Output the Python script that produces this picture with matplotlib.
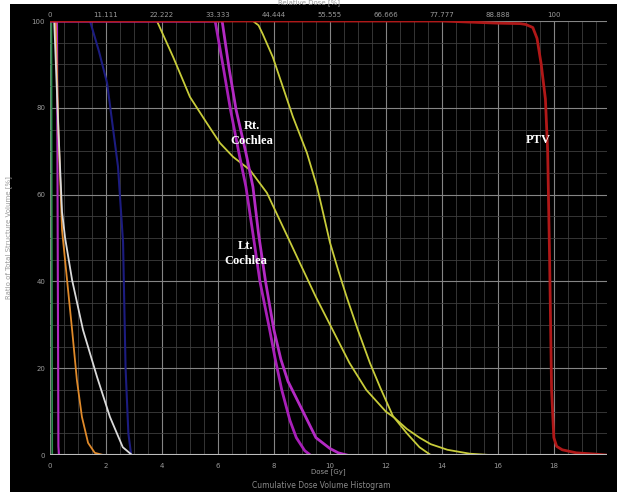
import matplotlib.pyplot as plt
from matplotlib.patches import Rectangle
from matplotlib.ticker import MultipleLocator

# Дозы (Gy) и объём (%) для каждой структуры
ptv_dose = [0, 14, 16, 16.8, 17.0, 17.25, 17.4, 17.55, 17.7, 17.78, 17.85, 17.92, 18.0, 18.1, 18.3, 18.8, 19.5, 19.85]
ptv_vol = [100, 100, 99.5, 99.4, 99.2, 98.5, 96, 90, 82, 70, 45, 15, 4, 2, 1.2, 0.5, 0.2, 0]

coch_a_dose = [0, 5.9, 6.2, 6.45, 6.75, 7.0, 7.25, 7.5, 7.85, 8.05, 8.28, 8.57, 8.8, 9.1, 9.3]
coch_a_vol = [100, 100, 89, 79.5, 69.6, 61.8, 51, 40, 28.8, 22, 15, 8, 4, 1, 0]
coch_b_dose = [0, 6.15, 6.4, 6.65, 7.0, 7.25, 7.45, 7.7, 8.0, 8.25, 8.5, 9.04, 9.5, 10.0, 10.3, 10.6]
coch_b_vol = [100, 100, 89, 79.5, 69.6, 61.8, 51, 40, 28.8, 22, 17, 10, 4, 1.5, 0.5, 0]

yel_a_dose = [0, 3.82, 4.4, 5.0, 5.6, 6.07, 6.54, 7.14, 7.75, 8.4, 8.93, 9.5, 10.1, 10.7, 11.3, 12.0, 12.3, 12.75, 13.2, 13.6, 14.2, 15.0, 15.7]
yel_a_vol = [100, 100, 91.7, 82.5, 76.5, 71.9, 68.7, 65.7, 60.4, 51.5, 44.2, 36.4, 28.8, 21.2, 15, 10, 8.6, 6, 4, 2.5, 1.2, 0.3, 0]
yel_b_dose = [0, 7.25, 7.45, 7.6, 7.96, 8.32, 8.68, 9.18, 9.54, 9.75, 10.0, 10.3, 10.6, 11.0, 11.43, 11.8, 12.25, 12.75, 13.2, 13.6]
yel_b_vol = [100, 100, 99, 97, 91.7, 84.8, 77.9, 69.6, 61.8, 56, 49, 42.5, 36.4, 28.8, 21.2, 15.5, 9, 5, 1.8, 0]

white_dose = [0, 0.15, 0.3, 0.43, 0.54, 0.79, 1.18, 1.68, 2.14, 2.6, 2.93]
white_vol = [100, 100, 75, 56, 50, 40.3, 28.8, 18, 8.8, 1.8, 0]

orange_dose = [0, 0.2, 0.3, 0.43, 0.61, 0.79, 0.96, 1.14, 1.36, 1.6, 1.9]
orange_vol = [100, 100, 75, 51.8, 40.3, 28.8, 17.3, 8.8, 2.8, 0.5, 0]

blue_dose = [0, 1.43, 1.75, 2.04, 2.43, 2.61, 2.7, 2.8, 2.9]
blue_vol = [100, 100, 93, 85.7, 66.4, 49, 20, 5, 0]

green_dose = [0, 0.05, 0.08]
green_vol = [100, 100, 0]
mag_dose = [0, 0.25, 0.3, 0.32]
mag_vol = [100, 100, 2, 0]

x_ticks = [0, 2, 4, 6, 8, 10, 12, 14, 16, 18]
top_labels = ['0', '11.111', '22.222', '33.333', '44.444', '55.555', '66.666', '77.777', '88.888', '100']
y_ticks = [0, 20, 40, 60, 80, 100]

fig = plt.figure(figsize=(6.17, 4.92), dpi=100)
fig.patch.set_facecolor('white')
fig.patches.append(Rectangle((10 / 617, 0), 1, 488 / 492, transform=fig.transFigure,
                             facecolor='black', edgecolor='none', zorder=-10))

ax = fig.add_axes([50 / 617, 37 / 492, 557 / 617, 434 / 492])
ax.set_facecolor('black')

# сетка
ax.xaxis.set_minor_locator(MultipleLocator(0.5))
ax.yaxis.set_minor_locator(MultipleLocator(5))
ax.grid(which='major', color='#858585', linewidth=0.8)
ax.grid(which='minor', color='#3e3e3e', linewidth=0.6)
ax.set_axisbelow(True)

ax.plot(blue_dose, blue_vol, color='#1c1c80', linewidth=1.5)
ax.plot(green_dose, green_vol, color='#2f8f4f', linewidth=1.2)
ax.plot(mag_dose, mag_vol, color='#b02ac0', linewidth=1.5)
ax.plot(orange_dose, orange_vol, color='#e08a2a', linewidth=1.3)
ax.plot(white_dose, white_vol, color='#dadada', linewidth=1.3)
ax.plot(yel_a_dose, yel_a_vol, color='#c8cc3a', linewidth=1.3)
ax.plot(yel_b_dose, yel_b_vol, color='#c8cc3a', linewidth=1.3)
ax.plot(coch_a_dose, coch_a_vol, color='#a81fb8', linewidth=2)
ax.plot(coch_b_dose, coch_b_vol, color='#b42ac4', linewidth=2)
ax.plot(ptv_dose, ptv_vol, color='#b01818', linewidth=2)

ax.set_xlim(0, 19.9)
ax.set_ylim(0, 100)
ax.set_xticks(x_ticks)
ax.set_yticks(y_ticks)
ax.tick_params(which='both', length=0, colors='#9a9a9a', labelsize=5)
ax.tick_params(axis='x', pad=6)
for s in ax.spines.values():
    s.set_visible(False)
ax.axhline(0, color='#bdbdbd', linewidth=1.5)

top = ax.secondary_xaxis('top')
top.set_xticks(x_ticks)
top.set_xticklabels(top_labels)
top.tick_params(length=0, colors='#9a9a9a', labelsize=5, pad=2)
for s in top.spines.values():
    s.set_visible(False)

ax.set_xlabel('Dose [Gy]', color='#9a9a9a', fontsize=5, labelpad=-1)
ax.set_ylabel('Ratio of Total Structure Volume [%]', color='#9a9a9a', fontsize=5, labelpad=14)
fig.text(0.5, 0.995, 'Relative Dose [%]', color='#9a9a9a', fontsize=5, ha='center', va='center')
fig.text(0.52, 0.013, 'Cumulative Dose Volume Histogram', color='#8a8a8a', fontsize=5.5, ha='center', va='center')

lbl = dict(color='white', fontsize=9, fontweight='bold', family='Liberation Serif',
           ha='center', va='center', linespacing=1.3)
ax.text(7.2, 74, 'Rt.\nCochlea', **lbl)
ax.text(7.0, 46.5, 'Lt.\nCochlea', **lbl)
ax.text(17.45, 72.6, 'PTV', **lbl)

plt.savefig('out.png', dpi=100, facecolor=fig.get_facecolor())
